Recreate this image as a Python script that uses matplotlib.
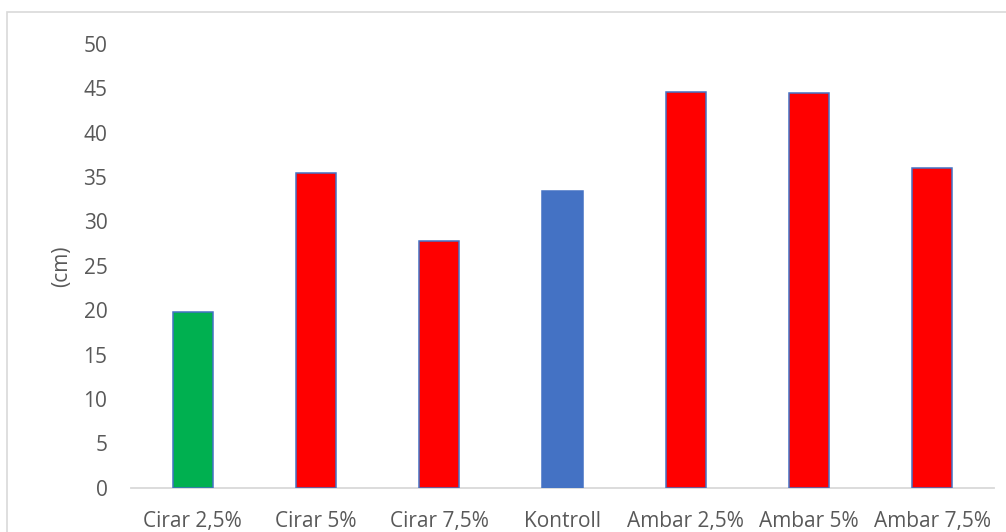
import matplotlib
matplotlib.use("Agg")
import matplotlib.pyplot as plt
from matplotlib.patches import Rectangle

categories = ["Cirar 2,5%", "Cirar 5%", "Cirar 7,5%", "Kontroll",
              "Ambar 2,5%", "Ambar 5%", "Ambar 7,5%"]
values = [19.8, 35.5, 27.8, 33.4, 44.6, 44.5, 36.0]
bar_colors = ["#00B050", "#FF0000", "#FF0000", "#4472C4",
              "#FF0000", "#FF0000", "#FF0000"]
y_ticks = [0, 5, 10, 15, 20, 25, 30, 35, 40, 45, 50]
y_label = "(cm)"

plt.rcParams["font.family"] = ["Open Sans", "DejaVu Sans"]

W, H = 1006, 532
fig = plt.figure(figsize=(W / 100, H / 100), dpi=100)

# chart frame
fig.patches.append(Rectangle((7 / W, -0.1), 1.2, 1 - 12 / H + 0.1,
                             transform=fig.transFigure, fill=False,
                             edgecolor="#D9D9D9", linewidth=1.2))

left, right = 131 / W, 994 / W
bottom, top = 1 - 487.7 / H, 1 - 44 / H
ax = fig.add_axes([left, bottom, right - left, top - bottom])

x = range(len(categories))
ax.bar(x, values, width=0.325, color=bar_colors,
       edgecolor="#4472C4", linewidth=1.1, zorder=3)

ax.set_xlim(-0.5, len(categories) - 0.5)
ax.set_ylim(0, 50)
ax.set_yticks(y_ticks)
ax.set_xticks(list(x))
ax.set_xticklabels(categories)

for s in ["top", "right", "left"]:
    ax.spines[s].set_visible(False)
ax.spines["bottom"].set_color("#D9D9D9")
ax.spines["bottom"].set_linewidth(1.3)

ax.tick_params(axis="both", length=0, labelsize=15, colors="#595959")
ax.tick_params(axis="y", pad=17)
ax.tick_params(axis="x", pad=17)
ax.set_ylabel(y_label, fontsize=15, color="#595959", labelpad=8)

fig.savefig("out.png", dpi=100, facecolor="white")
